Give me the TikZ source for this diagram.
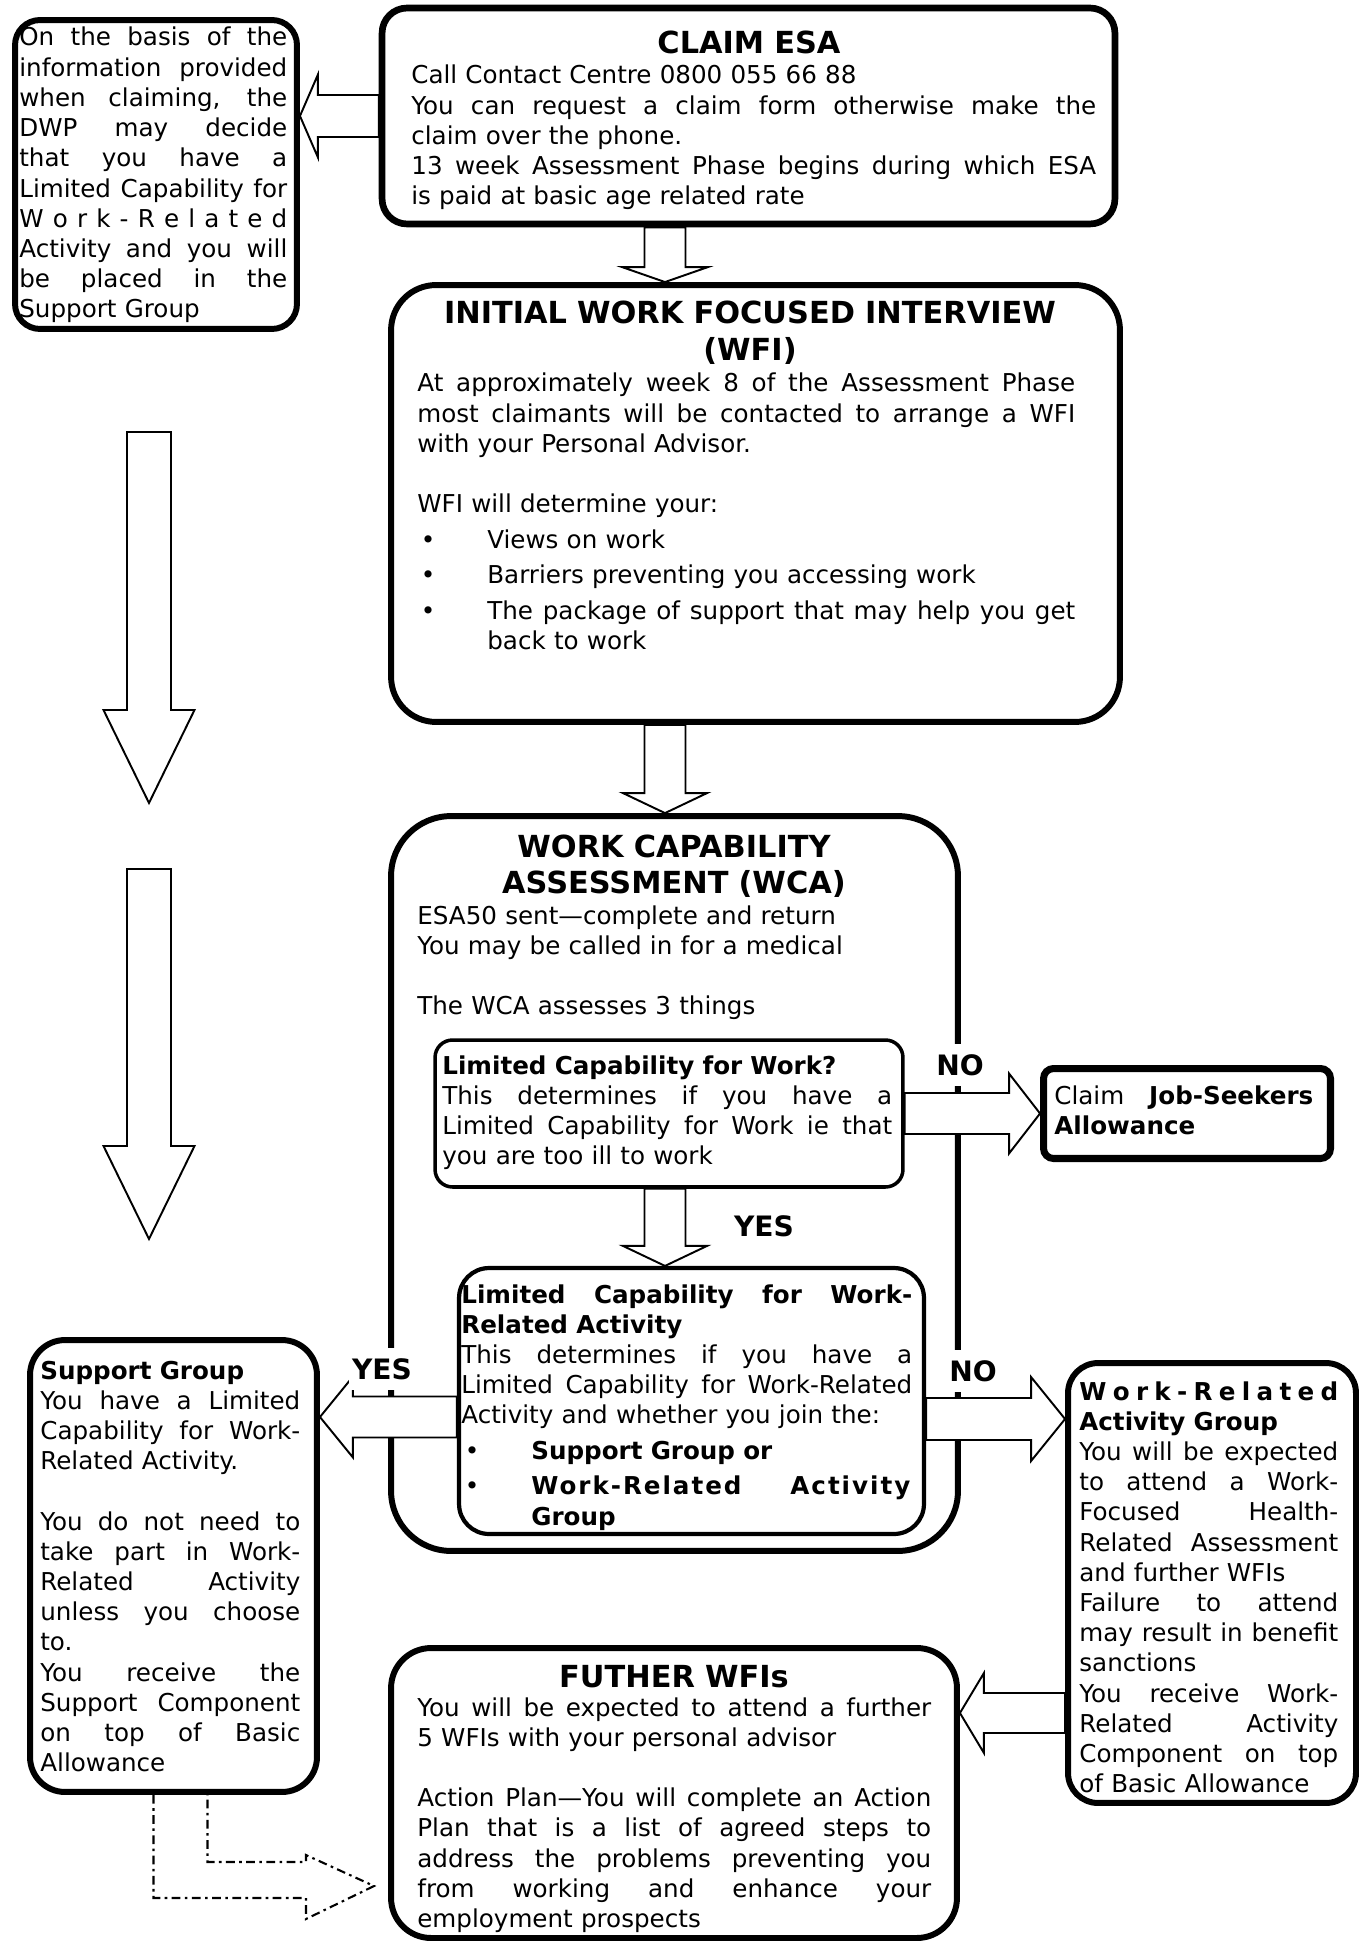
\documentclass[tikz,border=0pt]{standalone}
\usepackage{fontspec}
\setmainfont{DejaVu Sans}
\usepackage{graphicx}
\usetikzlibrary{calc}

\pgfdeclarelayer{back}
\pgfdeclarelayer{mid}
\pgfsetlayers{back,mid,main}

\newcommand{\bodyfont}{\fontsize{14}{17.2}\selectfont}
\newcommand{\headfont}{\fontsize{17.3}{21}\selectfont\bfseries}
% one justified line, squeezed if it is too long
\newcommand{\jl}[1]{{\spaceskip=0pt\xspaceskip=0pt\sbox0{#1}%
  \ifdim\wd0>\linewidth\resizebox{\linewidth}{\height}{#1}\else\makebox[\linewidth][s]{#1}\fi}}
\newcommand{\bul}{\makebox[1.4cm][l]{\hspace{2pt}•}}
% hollow block arrow: from, to, shaft half width, head half width, head length
\newcommand{\fatarrow}[5]{%
  \coordinate (fa-b) at ($(#2)!#5!(#1)$);
  \draw[fat] ($(#1)!#3!90:(#2)$) -- ($(fa-b)!#3!-90:(#1)$) -- ($(fa-b)!#4!-90:(#1)$) -- (#2)
    -- ($(fa-b)!#4!90:(#1)$) -- ($(fa-b)!#3!90:(#1)$) -- ($(#1)!#3!-90:(#2)$) -- cycle;}

\begin{document}
\begin{tikzpicture}
        [x=0.02cm, y=-0.02cm,
         box/.style={draw, fill=white, line width=3.4pt, inner sep=0pt},
         txt/.style={anchor=base west, inner sep=0pt, align=left, font=\bodyfont},
         hd/.style={anchor=base, inner sep=0pt, align=center, font=\headfont},
         fat/.style={draw, fill=white, line width=1.1pt, line join=miter},
         dfat/.style={draw, line width=1.2pt, dash pattern=on 5pt off 2.5pt on 1.5pt off 2.5pt},
         lbl/.style={fill=white, inner xsep=2pt, inner ysep=6pt, font=\fontsize{16}{19}\selectfont\bfseries}]

        \useasboundingbox (0,0) rectangle (1366,1942);

        \begin{pgfonlayer}{back}
          \fill[white] (0,0) rectangle (1366,1942);
          \node[box, rounded corners=1.2cm, minimum width=11.34cm, minimum height=14.7cm] (wca) at (674.5,1183.5) {};
        \end{pgfonlayer}

        \node[box, line width=3.8pt, rounded corners=0.5cm, minimum width=14.66cm, minimum height=4.32cm] (claim) at (748.5,116) {};
        \node[box, rounded corners=0.5cm, minimum width=5.64cm, minimum height=6.18cm] (note) at (156,174.5) {};
        \node[box, rounded corners=0.9cm, minimum width=14.58cm, minimum height=8.74cm] (wfi) at (755.5,503.5) {};
        \node[box, line width=2pt, rounded corners=0.35cm, minimum width=9.36cm, minimum height=2.94cm] (lcw) at (669,1113.5) {};
        \node[box, line width=4pt, rounded corners=0.2cm, minimum width=5.74cm, minimum height=1.8cm] (jsa) at (1187,1113.5) {};
        \node[box, line width=2.4pt, rounded corners=0.6cm, minimum width=9.3cm, minimum height=5.32cm] (lcwra) at (691.5,1401) {};
        \node[box, rounded corners=0.7cm, minimum width=5.74cm, minimum height=9.04cm] (sg) at (173.5,1566) {};
        \node[box, rounded corners=0.6cm, minimum width=5.76cm, minimum height=8.8cm] (wrag) at (1212,1583) {};
        \node[box, rounded corners=0.8cm, minimum width=11.32cm, minimum height=5.8cm] (fwfi) at (674,1793) {};

        \coordinate (col) at (665,0);
        \coordinate (yb) at ($(lcwra.west)+(0,16)$);
        \coordinate (nob) at ($(lcwra.east)+(0,18)$);
        \coordinate (wb) at ($(wrag.west)+(0,130)$);
        \coordinate (d1s) at (149,432);
        \coordinate (d1e) at (149,803);
        \coordinate (d2s) at (149,869);
        \coordinate (d2e) at (149,1239);
        \coordinate (dtip) at (374,1886);

        \begin{pgfonlayer}{mid}
          \fatarrow{claim.west}{note.east |- claim.west}{0.42cm}{0.83cm}{0.36cm}
          \fatarrow{col |- claim.south}{col |- wfi.north}{0.41cm}{0.86cm}{0.3cm}
          \fatarrow{col |- wfi.south}{col |- wca.north}{0.41cm}{0.84cm}{0.4cm}
          \fatarrow{col |- lcw.south}{col |- lcwra.north}{0.41cm}{0.84cm}{0.4cm}
          \fatarrow{lcw.east}{jsa.west}{0.41cm}{0.8cm}{0.62cm}
          \fatarrow{yb}{sg.east |- yb}{0.41cm}{0.81cm}{0.66cm}
          \fatarrow{nob}{wrag.west |- nob}{0.42cm}{0.84cm}{0.68cm}
          \fatarrow{wb}{fwfi.east |- wb}{0.4cm}{0.8cm}{0.48cm}
          \fatarrow{d1s}{d1e}{0.44cm}{0.91cm}{1.86cm}
          \fatarrow{d2s}{d2e}{0.44cm}{0.91cm}{1.86cm}
          \draw[dfat] ($(sg.south)+(-20,0)$) |- ($(dtip)+(-68,12)$) -- ($(dtip)+(-68,33)$) -- (dtip)
            -- ($(dtip)+(-68,-31)$) -- ($(dtip)+(-68,-24)$) -| ($(sg.south)+(34,0)$);
        \end{pgfonlayer}

        \node[lbl] (no1) at (960,1065) {NO};
        \node[lbl] (yes1) at (764,1226) {YES};
        \node[lbl] (yes2) at (382,1369) {YES};
        \node[lbl] (no2) at (973,1371) {NO};

        % headings
        \node[hd, text width=14cm] (claim-h) at (749,54) {CLAIM ESA};
        \node[hd, text width=14cm] (wfi-h) at (750,324) {INITIAL WORK FOCUSED INTERVIEW\\(WFI)};
        \node[hd, text width=11cm] (wca-h) at (674,857) {WORK CAPABILITY\\ASSESSMENT (WCA)};
        \node[hd, text width=11cm] (fwfi-h) at (674,1687) {FUTHER WFIs};

        % texts
        \node[txt, text width=13.7cm] (claim-t) at (411,84) {Call Contact Centre 0800 055 66 88\\
          \jl{You can request a claim form otherwise make the}\\
          claim over the phone.\\
          \jl{13 week Assessment Phase begins during which ESA}\\
          is paid at basic age related rate};
        \node[txt, text width=5.36cm] (note-t) at (19,46) {\jl{On the basis of the}\\
          \jl{information provided}\\
          \jl{when claiming, the}\\
          \jl{DWP may decide}\\
          \jl{that you have a}\\
          \jl{Limited Capability for}\\
          \jl{W\hfill o\hfill r\hfill k\hfill -\hfill R\hfill e\hfill l\hfill a\hfill t\hfill e\hfill d}\\
          \jl{Activity and you will}\\
          \jl{be placed in the}\\
          Support Group};
        \node[txt, text width=13.16cm] (wfi-t) at (417,392) {\jl{At approximately week 8 of the Assessment Phase}\\
          \jl{most claimants will be contacted to arrange a WFI}\\
          with your Personal Advisor.\\[17.2pt]
          WFI will determine your:\\[3pt]
          \bul Views on work\\[3pt]
          \bul Barriers preventing you accessing work\\[3pt]
          \jl{\bul The package of support that may help you get}\\
          \hspace*{1.4cm}back to work};
        \node[txt, text width=10cm] (wca-t) at (417,924) {ESA50 sent—complete and return\\
          You may be called in for a medical\\[17.2pt]
          The WCA assesses 3 things};
        \node[txt, text width=9cm] (lcw-t) at (442,1074) {\textbf{Limited Capability for Work?}\\
          \jl{This determines if you have a}\\
          \jl{Limited Capability for Work ie that}\\
          you are too ill to work};
        \node[txt, text width=5.18cm] (jsa-t) at (1054,1104) {\jl{Claim \textbf{Job-Seekers}}\\
          \textbf{Allowance}};
        \node[txt, text width=9.02cm] (lcwra-t) at (461,1303) {\jl{\textbf{Limited Capability for Work-}}\\
          \textbf{Related Activity}\\
          \jl{This determines if you have a}\\
          \jl{Limited Capability for Work-Related}\\
          Activity and whether you join the:\\[3pt]
          \bul\textbf{Support Group or}\\[3pt]
          \jl{\bul\textbf{\addfontfeature{LetterSpace=8}Work-Related Activity}}\\
          \hspace*{1.4cm}\textbf{Group}};
        \node[txt, text width=5.2cm] (sg-t) at (40,1379) {\textbf{Support Group}\\
          \jl{You have a Limited}\\
          \jl{Capability for Work-}\\
          Related Activity.\\[17.2pt]
          \jl{You do not need to}\\
          \jl{take part in Work-}\\
          \jl{Related Activity}\\
          \jl{unless you choose}\\
          to.\\
          \jl{You receive the}\\
          \jl{Support Component}\\
          \jl{on top of Basic}\\
          Allowance};
        \node[txt, text width=5.18cm] (wrag-t) at (1079,1400) {\jl{\textbf{W\hfill o\hfill r\hfill k\hfill -\hfill R\hfill e\hfill l\hfill a\hfill t\hfill e\hfill d}}\\
          \textbf{Activity Group}\\
          \jl{You will be expected}\\
          \jl{to attend a Work-}\\
          \jl{Focused Health-}\\
          \jl{Related Assessment}\\
          and further WFIs\\
          \jl{Failure to attend}\\
          \jl{may result in benefit}\\
          sanctions\\
          \jl{You receive Work-}\\
          \jl{Related Activity}\\
          \jl{Component on top}\\
          of Basic Allowance};
        \node[txt, text width=10.28cm] (fwfi-t) at (417,1716) {\jl{You will be expected to attend a further}\\
          5 WFIs with your personal advisor\\[17.2pt]
          \jl{Action Plan—You will complete an Action}\\
          \jl{Plan that is a list of agreed steps to}\\
          \jl{address the problems preventing you}\\
          \jl{from working and enhance your}\\
          employment prospects};

      \end{tikzpicture}
\end{document}
